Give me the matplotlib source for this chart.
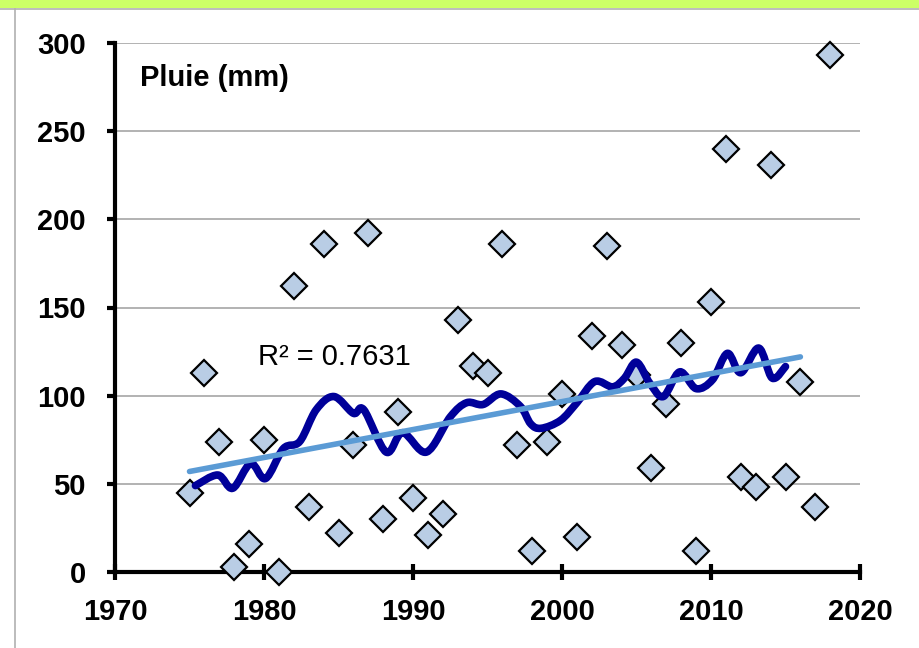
import matplotlib

matplotlib.use("Agg")
import matplotlib.pyplot as plt
from matplotlib.lines import Line2D
from matplotlib.patches import PathPatch, Rectangle
from matplotlib.path import Path

# annual rainfall (mm)
years = [1975, 1976, 1977, 1978, 1979, 1980, 1981, 1982, 1983, 1984,
         1985, 1986, 1987, 1988, 1989, 1990, 1991, 1992, 1993, 1994,
         1995, 1996, 1997, 1998, 1999, 2000, 2001, 2002, 2003, 2004,
         2005, 2006, 2007, 2008, 2009, 2010, 2011, 2012, 2013, 2014,
         2015, 2016, 2017, 2018]
rain = [45, 113, 74, 3, 16, 75, 0, 162, 37, 186,
        22, 72, 192, 30, 91, 42, 21, 33, 143, 117,
        113, 186, 72, 12, 74, 101, 20, 134, 185, 129,
        112, 59, 95, 130, 12, 153, 240, 54, 48, 231,
        54, 108, 37, 293]

# smoothed (moving average) curve
smooth_x = [1975.4, 1976.9, 1977.9, 1979.1, 1980.1, 1981.3, 1982.4, 1983.5,
            1984.7, 1986.0, 1986.7, 1988.2, 1989.3, 1990.9, 1992.5, 1993.6,
            1994.7, 1995.9, 1997.2, 1997.9, 1998.6, 1999.9, 2001.0, 2002.2,
            2003.4, 2004.2, 2005.0, 2005.9, 2006.8, 2007.9, 2009.0, 2010.1,
            2011.1, 2012.0, 2013.2, 2014.1, 2015.0]
smooth_y = [49, 55, 47.5, 61.5, 53, 70, 74, 92,
            99.5, 90, 92, 68, 79, 68, 88, 96,
            95, 101, 94, 84, 81.5, 86, 96, 108,
            105, 110, 119, 107, 99.5, 113.5, 104, 109,
            124, 113, 127, 110, 116.5]

# linear trend line end points
trend_x = [1975, 2016]
trend_y = [57, 122]
r2_label = "R² = 0.7631"

_RC = {
    "font.family": ["Liberation Sans", "DejaVu Sans"],
    "font.weight": "bold",
}


def smooth_path(xs, ys):
    # Excel-like smoothed line: Catmull-Rom segments as cubic Beziers
    pts = list(zip(xs, ys))
    verts = [pts[0]]
    codes = [Path.MOVETO]
    n = len(pts)
    for i in range(n - 1):
        p0 = pts[i - 1] if i > 0 else pts[i]
        p1 = pts[i]
        p2 = pts[i + 1]
        p3 = pts[i + 2] if i + 2 < n else pts[i + 1]
        c1 = (p1[0] + (p2[0] - p0[0]) / 6, p1[1] + (p2[1] - p0[1]) / 6)
        c2 = (p2[0] - (p3[0] - p1[0]) / 6, p2[1] - (p3[1] - p1[1]) / 6)
        verts += [c1, c2, p2]
        codes += [Path.CURVE4] * 3
    return Path(verts, codes)


with plt.rc_context(_RC):
    fig = plt.figure(figsize=(9.19, 6.48), dpi=100)
    fig.patch.set_facecolor("white")

    # green band and grey frame of the original slide
    fig.add_artist(Rectangle((0, 1 - 8 / 648), 1, 8 / 648, transform=fig.transFigure,
                             facecolor="#CCFF66", edgecolor="none"))
    fig.add_artist(Line2D([0, 1], [1 - 9 / 648] * 2, transform=fig.transFigure,
                          color="#B0B0B0", linewidth=1.2))
    fig.add_artist(Line2D([15 / 919] * 2, [0, 1 - 9 / 648], transform=fig.transFigure,
                          color="#B0B0B0", linewidth=1.2))

    ax = fig.add_axes([115 / 919, 1 - 572 / 648, 745 / 919, 529 / 648])
    ax.set_xlim(1970, 2020)
    ax.set_ylim(0, 300)
    ax.set_xticks(range(1970, 2021, 10))
    ax.set_yticks(range(0, 301, 50))

    ax.yaxis.grid(True, color="#A6A6A6", linewidth=1.2)
    ax.set_axisbelow(True)
    for side in ("top", "right"):
        ax.spines[side].set_visible(False)
    for side in ("left", "bottom"):
        ax.spines[side].set_linewidth(3)
        ax.spines[side].set_color("black")
        ax.spines[side].set_capstyle("projecting")

    ax.tick_params(axis="y", direction="out", length=6, width=3, labelsize=21, pad=15)
    ax.tick_params(axis="x", direction="inout", length=12, width=3, labelsize=21, pad=13)

    ax.plot(years, rain, linestyle="none", marker="D", markersize=13,
            markerfacecolor="#B9CDE5", markeredgecolor="black", markeredgewidth=1.6,
            zorder=3, clip_on=False)

    ax.add_patch(PathPatch(smooth_path(smooth_x, smooth_y), facecolor="none",
                           edgecolor="#000099", linewidth=5.5, capstyle="round",
                           joinstyle="round", zorder=4))

    ax.plot(trend_x, trend_y, color="#5B9BD5", linewidth=4, solid_capstyle="round",
            zorder=5)

    ax.text(1971.7, 280, "Pluie (mm)", fontsize=21, fontweight="bold",
            va="center", ha="left")
    ax.text(1979.6, 122, r2_label, fontsize=21, fontweight="normal",
            va="center", ha="left")

    fig.savefig("out.png", dpi=100)
    plt.close(fig)
